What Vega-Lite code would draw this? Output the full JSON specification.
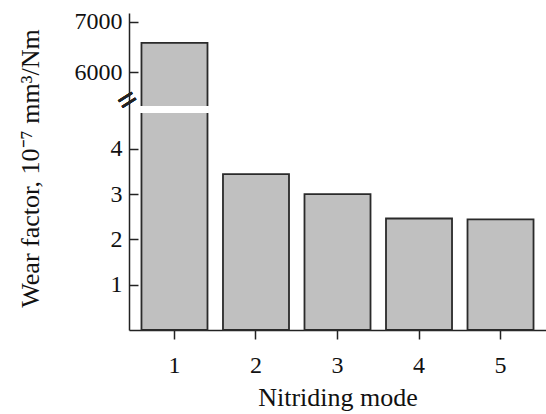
{
  "$schema": "https://vega.github.io/schema/vega-lite/v6.json",
  "autosize": {"type": "none"},
  "padding": {"left": 129, "top": 13, "right": 0, "bottom": 84},
  "width": 417,
  "height": 317,
  "background": "white",
  "config": {
    "view": {"stroke": null},
    "font": "Liberation Serif",
    "axis": {
      "labelFont": "Liberation Serif",
      "titleFont": "Liberation Serif",
      "labelColor": "#111",
      "titleColor": "#111",
      "domainColor": "#222",
      "tickColor": "#222",
      "domainWidth": 1.5,
      "tickWidth": 1.5,
      "grid": false,
      "labelFontSize": 24,
      "titleFontSize": 26,
      "titleFontWeight": "normal"
    }
  },
  "data": {
    "values": [
      {"mode": "1", "wear": 6580},
      {"mode": "2", "wear": 3.44},
      {"mode": "3", "wear": 3.0},
      {"mode": "4", "wear": 2.46},
      {"mode": "5", "wear": 2.44}
    ]
  },
  "encoding": {
    "x": {
      "field": "mode",
      "type": "nominal",
      "scale": {"paddingInner": 0.19, "paddingOuter": 0.153},
      "axis": {
        "title": "Nitriding mode",
        "labelAngle": 0,
        "tickSize": 9,
        "labelPadding": 14,
        "titleY": 75,
        "titleBaseline": "alphabetic"
      }
    }
  },
  "layer": [
    {
      "mark": {"type": "bar", "fill": "#c0c0c0", "stroke": "#2a2a2a", "strokeWidth": 1.8},
      "encoding": {
        "y": {
          "field": "wear",
          "type": "quantitative",
          "scale": {"domain": [0, 4.81, 5314, 7172], "range": [317, 99, 94, 0], "zero": false, "nice": false},
          "axis": {
            "title": "Wear factor, 10⁻⁷ mm³/Nm",
            "values": [1, 2, 3, 4, 6000, 7000],
            "format": "d",
            "tickSize": -9,
            "labelPadding": 16,
            "titleX": -99,
            "titleY": 155,
            "titleAngle": -90,
            "titleAlign": "center",
            "titleBaseline": "middle"
          }
        }
      }
    },
    {
      "mark": {"type": "rect", "fill": "white", "stroke": "white", "strokeWidth": 2},
      "encoding": {
        "x": {"datum": "1"},
        "y": {"datum": 4.81},
        "y2": {"datum": 5314}
      }
    },
    {
      "mark": {"type": "text", "text": "=", "fontSize": 34, "fontWeight": "bold", "angle": -32, "color": "#222", "dx": -16, "align": "center", "baseline": "middle"},
      "encoding": {
        "x": {"datum": "1", "bandPosition": 0},
        "y": {"datum": 5600}
      }
    }
  ]
}
